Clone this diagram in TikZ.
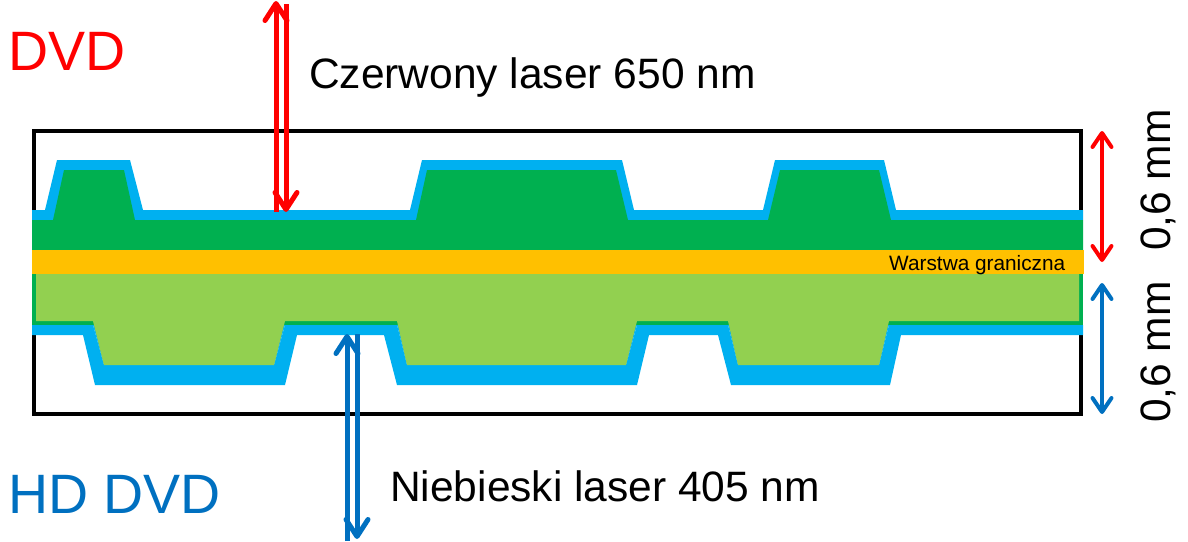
\documentclass[tikz,border=0pt]{standalone}
\usepackage{xcolor}
\usepackage{fontspec}
\setmainfont{Liberation Sans}
\usetikzlibrary{arrows.meta}
\definecolor{myred}{RGB}{255,0,0}
\definecolor{myblue}{RGB}{0,112,192}
\definecolor{mycyan}{RGB}{0,176,240}
\definecolor{mygreen}{RGB}{0,176,80}
\definecolor{mylime}{RGB}{146,208,80}
\definecolor{myamber}{RGB}{255,192,0}
\tikzset{
  lbl/.style={anchor=base west, inner sep=0pt, font=\fontsize{42.5}{42.5}\selectfont},
  bigtitle/.style={anchor=base west, inner sep=0pt, font=\fontsize{55.5}{55.5}\selectfont},
  dimlbl/.style={anchor=base, inner sep=0pt, rotate=90, font=\fontsize{42.5}{42.5}\selectfont},
  beam/.style={-{Straight Barb[length=17pt, width=22pt, line width=5pt, round]}, line width=5pt},
  dimarrow/.style={{Straight Barb[length=14pt, width=19pt, line width=4pt, round]}-{Straight Barb[length=14pt, width=19pt, line width=4pt, round]}, line width=4pt}
}
\begin{document}
\begin{tikzpicture}[x=1pt, y=-1pt]
  \useasboundingbox (0,0) rectangle (1188,541);

  % Frame
  \draw[line width=4pt] (34,131) rectangle (1081,414);

  % Upper layers
  \fill[mycyan] (32,210) -- (45,210) -- (57,160) -- (130,160) -- (143,210) -- (410,210) -- (422,160)
    -- (622,160) -- (634,210) -- (763,210) -- (775,160) -- (884,160) -- (896,210) -- (1083,210) -- (1083,220) -- (32,220) -- cycle;
  \fill[mygreen] (32,250) -- (32,220) -- (53,220) -- (64,170) -- (124,170) -- (135,220) -- (416,220) -- (427,170)
    -- (616,170) -- (628,220) -- (768,220) -- (780,170) -- (879,170) -- (891,220) -- (1083,220) -- (1083,250) -- cycle;

  % Lower layers
  \fill[mycyan] (32,325) -- (93,325) -- (104,365) -- (274,365) -- (285,325) -- (397,325) -- (407,365) -- (626,365)
    -- (637,325) -- (728,325) -- (738,365) -- (879,365) -- (889,325) -- (1083,325) -- (1083,335) -- (901,335) -- (890,385)
    -- (731,385) -- (718,335) -- (649,335) -- (637,385) -- (397,385) -- (384,335) -- (297,335) -- (285,385) -- (95,385) -- (83,335) -- (32,335) -- cycle;
  \fill[mygreen] (32,272) rectangle (1083,325);
  \fill[mycyan] (93,325) -- (104,365) -- (274,365) -- (285,325) -- cycle;
  \fill[mycyan] (397,325) -- (407,365) -- (626,365) -- (637,325) -- cycle;
  \fill[mycyan] (728,325) -- (738,365) -- (879,365) -- (889,325) -- cycle;
  \fill[mylime] (36,272) -- (1079,272) -- (1079,321) -- (889,321) -- (879,365) -- (738,365) -- (728,321) -- (637,321)
    -- (626,365) -- (407,365) -- (397,321) -- (285,321) -- (274,365) -- (104,365) -- (93,321) -- (36,321) -- cycle;

  % Boundary layer
  \fill[myamber] (32,250) rectangle (1084,274);
  \node[anchor=base west, inner sep=0pt, font=\fontsize{20.8}{20.8}\selectfont] (boundary) at (889,270) {Warstwa graniczna};

  % Red laser
  \coordinate (redin) at (286,4);
  \coordinate (redspot) at (286,212);
  \coordinate (redback) at (276,212);
  \coordinate (redout) at (276,1);
  \draw[beam, myred] (redin) -- (redspot);
  \draw[beam, myred] (redback) -- (redout);

  % Blue laser
  \coordinate (bluein) at (347,541);
  \coordinate (bluespot) at (347,334);
  \coordinate (blueback) at (357,334);
  \coordinate (blueout) at (357,539);
  \draw[beam, myblue] (bluein) -- (bluespot);
  \draw[beam, myblue] (blueback) -- (blueout);

  % Thickness arrows
  \coordinate (redtop) at (1102,131);
  \coordinate (redbot) at (1102,262);
  \coordinate (bluetop) at (1102,283);
  \coordinate (bluebot) at (1102,414);
  \draw[dimarrow, myred] (redtop) -- (redbot);
  \draw[dimarrow, myblue] (bluetop) -- (bluebot);

  % Labels
  \node[bigtitle, text=myred] (dvd) at (8,70) {DVD};
  \node[bigtitle, text=myblue] (hddvd) at (8,513) {HD DVD};
  \node[lbl] (redlabel) at (309,88) {Czerwony laser 650 nm};
  \node[lbl] (bluelabel) at (390,501) {Niebieski laser 405 nm};
  \node[dimlbl] (redthick) at (1170,180) {0,6 mm};
  \node[dimlbl] (bluethick) at (1170,352) {0,6 mm};
\end{tikzpicture}
\end{document}
